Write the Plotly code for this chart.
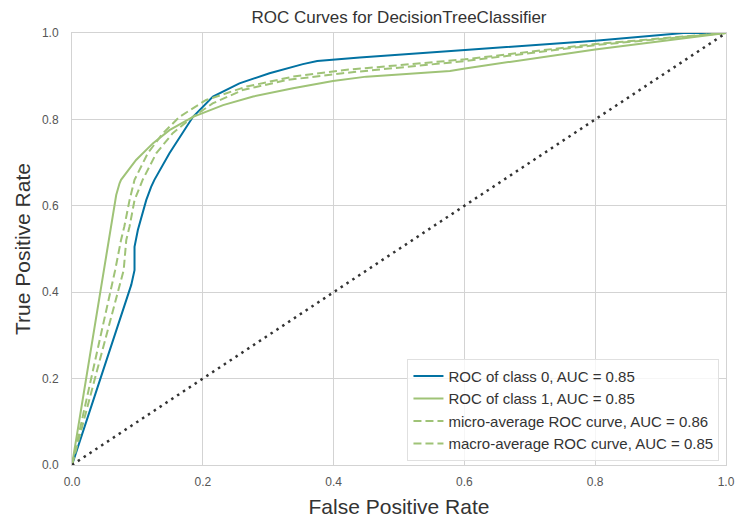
import plotly.graph_objects as go

# ---- data ----
class0_fpr = [0, 0.0906, 0.0956, 0.0956, 0.1007, 0.1135, 0.121, 0.126, 0.149, 0.165, 0.185,
              0.2155, 0.256, 0.302, 0.353, 0.375, 0.404, 0.44, 0.601, 0.8, 0.935, 1.0]
class0_tpr = [0, 0.417, 0.451, 0.505, 0.544, 0.613, 0.644, 0.66, 0.7215, 0.76, 0.806,
              0.853, 0.8835, 0.9067, 0.928, 0.935, 0.939, 0.943, 0.9606, 0.982, 1.0, 1.0]

class1_fpr = [0, 0.0676, 0.0727, 0.075, 0.098, 0.124, 0.149, 0.185, 0.231, 0.277, 0.338,
              0.399, 0.45, 0.578, 0.601, 0.8, 1.0]
class1_tpr = [0, 0.625, 0.652, 0.66, 0.706, 0.745, 0.775, 0.806, 0.833, 0.853, 0.872,
              0.889, 0.899, 0.912, 0.918, 0.962, 1.0]

micro_fpr = [0, 0.06, 0.066, 0.075, 0.08, 0.088, 0.093, 0.0956, 0.116, 0.139, 0.1645,
             0.205, 0.267, 0.338, 0.414, 0.601, 0.8, 1.0]
micro_tpr = [0, 0.405, 0.451, 0.521, 0.552, 0.613, 0.644, 0.66, 0.722, 0.768, 0.806,
             0.845, 0.876, 0.899, 0.914, 0.939, 0.9745, 1.0]

macro_fpr = [0, 0.070, 0.079, 0.083, 0.088, 0.0956, 0.103, 0.108, 0.129, 0.154, 0.185,
             0.215, 0.261, 0.328, 0.414, 0.601, 0.8, 1.0]
macro_tpr = [0, 0.405, 0.451, 0.521, 0.552, 0.613, 0.644, 0.66, 0.722, 0.768, 0.806,
             0.837, 0.868, 0.891, 0.907, 0.935, 0.972, 1.0]

diag = [0, 1]

labels = ["ROC of class 0, AUC = 0.85",
          "ROC of class 1, AUC = 0.85",
          "micro-average ROC curve, AUC = 0.86",
          "macro-average ROC curve, AUC = 0.85"]

tick_vals = [0.0, 0.2, 0.4, 0.6, 0.8, 1.0]
tick_text = ["0.0", "0.2", "0.4", "0.6", "0.8", "1.0"]

BLUE = "#0272a2"
GREEN = "#9fc377"
FONT = "Liberation Sans, Arial, sans-serif"

fig = go.Figure()
fig.add_trace(go.Scatter(x=class0_fpr, y=class0_tpr, mode="lines", name=labels[0],
                         line=dict(color=BLUE, width=2)))
fig.add_trace(go.Scatter(x=class1_fpr, y=class1_tpr, mode="lines", name=labels[1],
                         line=dict(color=GREEN, width=2)))
fig.add_trace(go.Scatter(x=micro_fpr, y=micro_tpr, mode="lines", name=labels[2],
                         line=dict(color=GREEN, width=2, dash="8px,4px")))
fig.add_trace(go.Scatter(x=macro_fpr, y=macro_tpr, mode="lines", name=labels[3],
                         line=dict(color=GREEN, width=2, dash="8px,4px")))
fig.add_trace(go.Scatter(x=diag, y=diag, mode="lines", showlegend=False,
                         line=dict(color="#333333", width=2.5, dash="2.5px,4.5px")))

axis_common = dict(
    range=[0, 1], tickvals=tick_vals, ticktext=tick_text,
    showgrid=True, gridcolor="#d3d3d3", gridwidth=1,
    showline=True, linecolor="#d3d3d3", linewidth=1, mirror=True,
    zeroline=False, ticks="", automargin=False,
    tickfont=dict(family=FONT, size=12, color="#555555"),
)

fig.update_layout(
    width=739, height=522,
    margin=dict(l=72, r=13, t=33, b=57),
    paper_bgcolor="white", plot_bgcolor="white",
    title=dict(text="ROC Curves for DecisionTreeClassifier", x=(72 + 726) / 2 / 739,
               xanchor="center", y=1 - 17 / 522, yanchor="middle",
               font=dict(family=FONT, size=17, color="#333333")),
    xaxis=dict(**axis_common, ticklabelstandoff=6,
               title=dict(text="False Positive Rate", standoff=10,
                          font=dict(family=FONT, size=21, color="#333333"))),
    yaxis=dict(**axis_common, ticklabelstandoff=10,
               title=dict(text="True Positive Rate", standoff=5,
                          font=dict(family=FONT, size=21, color="#333333"))),
    legend=dict(x=0.99, y=0.01, xanchor="right", yanchor="bottom",
                bgcolor="rgba(255,255,255,0.8)", bordercolor="#e0e0e0", borderwidth=1,
                font=dict(family=FONT, size=15, color="#333333"),
                tracegroupgap=0, itemwidth=30),
    showlegend=True,
)

fig.write_html("out.html")
